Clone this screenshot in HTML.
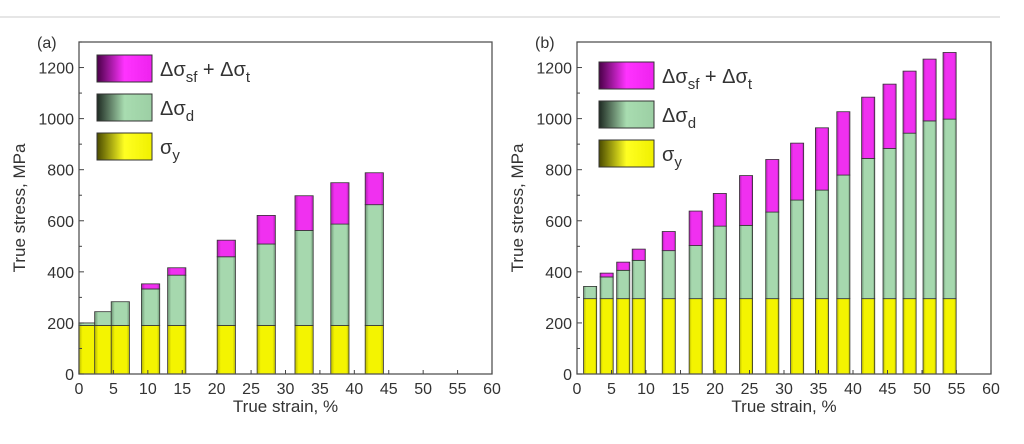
<!DOCTYPE html>
<html><head><meta charset="utf-8"><style>
body{margin:0;background:#fff;}
svg{display:block;font-family:"Liberation Sans",Arial,sans-serif;}
</style></head><body>
<svg id="c" width="1024" height="444">
<defs>
<linearGradient id="gP" x1="0" x2="1"><stop offset="0" stop-color="#4a0048"/><stop offset="0.5" stop-color="#ff33ff"/><stop offset="1" stop-color="#ee22ee"/></linearGradient>
<linearGradient id="gG" x1="0" x2="1"><stop offset="0" stop-color="#1e2a22"/><stop offset="0.5" stop-color="#a8dcb0"/><stop offset="1" stop-color="#9ccfa4"/></linearGradient>
<linearGradient id="gY" x1="0" x2="1"><stop offset="0" stop-color="#4a4a00"/><stop offset="0.5" stop-color="#ffff22"/><stop offset="1" stop-color="#f0f000"/></linearGradient>
<linearGradient id="bP" x1="0" x2="1"><stop offset="0" stop-color="#b020b0"/><stop offset="0.2" stop-color="#f030f0"/><stop offset="0.85" stop-color="#f030f0"/><stop offset="1" stop-color="#b020b0"/></linearGradient>
<linearGradient id="bG" x1="0" x2="1"><stop offset="0" stop-color="#6f9676"/><stop offset="0.2" stop-color="#a6d8ae"/><stop offset="0.85" stop-color="#a6d8ae"/><stop offset="1" stop-color="#6f9676"/></linearGradient>
<linearGradient id="bY" x1="0" x2="1"><stop offset="0" stop-color="#b8b800"/><stop offset="0.2" stop-color="#f4f400"/><stop offset="0.85" stop-color="#f4f400"/><stop offset="1" stop-color="#b8b800"/></linearGradient>
</defs>
<line x1="0" y1="17" x2="1000" y2="17" stroke="#ccc" stroke-width="1"/>
</svg>
<script>
// Panel (a)
const strainA = [1.3, 3.6, 6.0, 10.4, 14.2, 21.4, 27.2, 32.7, 37.9, 42.9];
const yieldA  = [190,190,190,190,190,190,190,190,190,190];
const dislA   = [200,244,283,333,387,459,509,562,587,663];   // top of green
const totalA  = [200,244,283,353,416,524,621,698,749,788];   // top of magenta
// Panel (b)
const strainB = [1.9,4.3,6.7,8.95,13.3,17.2,20.7,24.5,28.3,31.9,35.5,38.6,42.2,45.3,48.2,51.1,54.0];
const yieldB  = [295,295,295,295,295,295,295,295,295,295,295,295,295,295,295,295,295];
const dislB   = [343,380,406,445,483,503,579,582,634,681,720,779,844,883,943,991,998];
const totalB  = [343,395,438,489,558,638,707,777,840,904,964,1027,1084,1135,1186,1233,1259];
const xTicks = [0,5,10,15,20,25,30,35,40,45,50,55,60];
const yTicks = [0,200,400,600,800,1000,1200];

const NS="http://www.w3.org/2000/svg";
const svg=document.getElementById('c');
function mk(tag,attrs,parent){const e=document.createElementNS(NS,tag);for(const k in attrs)e.setAttribute(k,attrs[k]);(parent||svg).appendChild(e);return e;}

function panel(id,L,R,T,B,label,strain,yv,dv,tv,bw,leg){
  const g=mk('g',{});
  
  
  const xs=v=>L+(R-L)*v/60, ys=v=>B-(B-T)*v/1300;
  for(let i=0;i<strain.length;i++){
    const x0=xs(strain[i]-bw/2), w=xs(bw)-L;
    const segs=[[0,yv[i],'url(#bY)','yield'],[yv[i],dv[i],'url(#bG)','dislocation'],[dv[i],tv[i],'url(#bP)','twin']];
    segs.forEach(s=>{ if(s[1]>s[0]){
      const r=mk('rect',{x:x0,y:ys(s[1]),width:w,height:ys(s[0])-ys(s[1]),fill:s[2],stroke:'#333','stroke-width':0.8},g);
      
      
    }});
  }
  const f=mk('rect',{x:L,y:T,width:R-L,height:B-T,fill:'none',stroke:'#555','stroke-width':1.3},g);
  
  
  xTicks.forEach(v=>{
    mk('line',{x1:xs(v),x2:xs(v),y1:B,y2:B-4,stroke:'#444'},g);
    const t=mk('text',{x:xs(v),y:B+20,'text-anchor':'middle','font-size':16,fill:'#333'},g);
    t.textContent=v;
    
    
  });
  yTicks.forEach(v=>{
    mk('line',{x1:L,x2:L+5,y1:ys(v),y2:ys(v),stroke:'#444'},g);
    mk('line',{x1:L,x2:L+3,y1:ys(v+100),y2:ys(v+100),stroke:'#444'},g);
    const t=mk('text',{x:L-5,y:ys(v)+6,'text-anchor':'end','font-size':16,fill:'#333'},g);
    t.textContent=v;
    
    
  });
  const xt=mk('text',{x:(L+R)/2,y:B+38,'text-anchor':'middle','font-size':17,fill:'#333'},g);
  xt.textContent='True strain, %';
  
  
  const yt=mk('text',{x:0,y:0,'text-anchor':'middle','font-size':17,fill:'#333',transform:`translate(${L-54},${(T+B)/2}) rotate(-90)`},g);
  yt.textContent='True stress, MPa';
  
  
  const pl=mk('text',{x:L-42,y:T+6,'font-size':16,fill:'#333'},g);
  pl.textContent=label;
  
  
  const items=[['url(#gP)','Δσ','sf',' + Δσ','t'],['url(#gG)','Δσ','d'],['url(#gY)','σ','y']];
  items.forEach((it,k)=>{
    const yy=leg.y+k*39;
    const r=mk('rect',{x:leg.x,y:yy,width:55,height:27,fill:it[0],stroke:'#333','stroke-width':1},g);
    
    
    const t=mk('text',{x:leg.x+63,y:yy+21,'font-size':20,fill:'#333'},g);
    
    
    const s1=mk('tspan',{},t);s1.textContent=it[1];
    const s2=mk('tspan',{dy:6,'font-size':15},t);s2.textContent=it[2];
    if(it[3]){const s3=mk('tspan',{dy:-6},t);s3.textContent=it[3];
      const s4=mk('tspan',{dy:6,'font-size':15},t);s4.textContent=it[4];}
  });
}
panel('a',79,492,42,374,'(a)',strainA,yieldA,dislA,totalA,2.65,{x:97,y:55});
panel('b',577,991,42,374,'(b)',strainB,yieldB,dislB,totalB,1.9,{x:599,y:62});
</script>
</body></html>
